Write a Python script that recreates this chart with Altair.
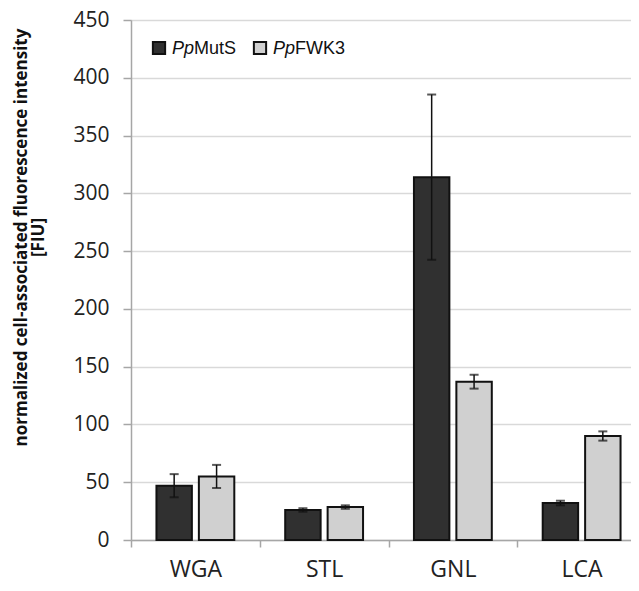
import altair as alt
import pandas as pd

categories = ["WGA", "STL", "GNL", "LCA"]
series = ["PpMutS", "PpFWK3"]
muts_mean = [47, 26, 314, 32]
muts_err = [10, 1.5, 71.5, 2]
fwk3_mean = [55, 28.5, 137, 90]
fwk3_err = [10, 1.5, 6, 4]
y_ticks = [0, 50, 100, 150, 200, 250, 300, 350, 400, 450]
bar_colors = ["#303030", "#d0d0d0"]

rows = []
for i, c in enumerate(categories):
    rows.append(dict(lectin=c, strain=series[0], mean=muts_mean[i],
                     lo=muts_mean[i] - muts_err[i], hi=muts_mean[i] + muts_err[i]))
    rows.append(dict(lectin=c, strain=series[1], mean=fwk3_mean[i],
                     lo=fwk3_mean[i] - fwk3_err[i], hi=fwk3_mean[i] + fwk3_err[i]))
df = pd.DataFrame(rows)

x_enc = alt.X("lectin:N", sort=categories,
              scale=alt.Scale(range=[0, 515], paddingInner=0, paddingOuter=0),
              axis=alt.Axis(title=None, labelAngle=0, labelFontSize=23, labelFont="Open Sans",
                            labelColor="#222222", labelPadding=11, tickBand="extent",
                            tickSize=7, tickColor="#a6a6a6", tickWidth=1.5,
                            domainColor="#a6a6a6", domainWidth=1.5, grid=False))
xo_enc = alt.XOffset("strain:N", sort=series,
                     scale=alt.Scale(paddingInner=0.165, paddingOuter=0.6))
y_scale = alt.Scale(domain=[0, 450], nice=False)

base = alt.Chart(df)

bars = base.mark_bar(stroke="#111111", strokeWidth=2).encode(
    x=x_enc,
    xOffset=xo_enc,
    y=alt.Y("mean:Q", scale=y_scale,
            axis=alt.Axis(values=y_ticks, title=["normalized cell-associated fluorescence intensity", "[FIU]"],
                          titleFont="Open Sans", titleFontSize=17, titleFontWeight="bold",
                          titleColor="#111111", titleAngle=270, titleX=-118, titleY=217,
                          titleBaseline="top", titleAlign="center", titleLineHeight=17,
                          labelFont="Open Sans", labelFontSize=21, labelColor="#222222",
                          labelPadding=14, tickSize=8, tickColor="#a6a6a6", tickWidth=1.5,
                          domainColor="#a6a6a6", domainWidth=1.5,
                          grid=True, gridColor="#d9d9d9", gridWidth=1.5)),
    color=alt.Color("strain:N", scale=alt.Scale(domain=series, range=bar_colors), legend=None),
)

err = base.mark_rule(color="#111111", strokeWidth=1.5).encode(
    x=x_enc, xOffset=xo_enc, y=alt.Y("lo:Q", scale=y_scale), y2="hi:Q")
cap_lo = base.mark_tick(color="#111111", thickness=2, size=9).encode(
    x=x_enc, xOffset=xo_enc, y=alt.Y("lo:Q", scale=y_scale))
cap_hi = base.mark_tick(color="#111111", thickness=2, size=9).encode(
    x=x_enc, xOffset=xo_enc, y=alt.Y("hi:Q", scale=y_scale))

leg_df = pd.DataFrame({"k": [0]})
leg = alt.Chart(leg_df)
sq1 = leg.mark_point(shape="square", filled=True, size=150, fill=bar_colors[0],
                     stroke="#111111", strokeWidth=2, opacity=1).encode(
    x=alt.value(28), y=alt.value(28))
sq2 = leg.mark_point(shape="square", filled=True, size=150, fill=bar_colors[1],
                     stroke="#111111", strokeWidth=2, opacity=1).encode(
    x=alt.value(129), y=alt.value(28))
txt_style = dict(align="left", baseline="alphabetic", font="Liberation Sans", fontSize=18, color="#111111")
t1a = leg.mark_text(fontStyle="italic", **txt_style).encode(
    x=alt.value(41), y=alt.value(34), text=alt.value("Pp"))
t1b = leg.mark_text(**txt_style).encode(
    x=alt.value(63), y=alt.value(34), text=alt.value("MutS"))
t2a = leg.mark_text(fontStyle="italic", **txt_style).encode(
    x=alt.value(142), y=alt.value(34), text=alt.value("Pp"))
t2b = leg.mark_text(**txt_style).encode(
    x=alt.value(164), y=alt.value(34), text=alt.value("FWK3"))

chart = alt.layer(bars, err, cap_lo, cap_hi, sq1, sq2, t1a, t1b, t2a, t2b).properties(
    width=500, height=520,
    padding={"left": 123, "top": 12, "right": 0, "bottom": 43},
    autosize=alt.AutoSizeParams(type="none"),
).configure_view(stroke=None).configure(background="white")

chart.save("out.html", embed_options={"renderer": "svg", "actions": False})
